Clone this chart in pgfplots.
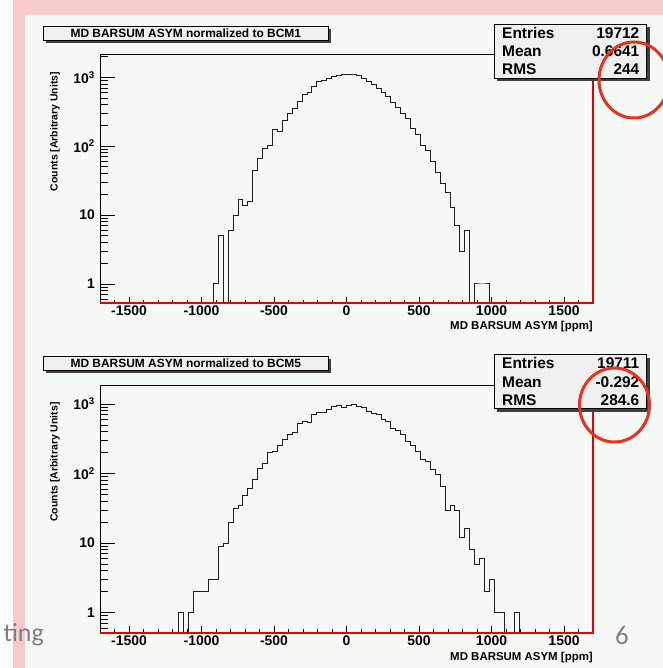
\documentclass[border=0pt]{standalone}
\usepackage{pgfplots}
\pgfplotsset{compat=1.18}
\usepackage{pgfplotstable}
\usepackage{fontspec}
\setmainfont{Liberation Sans}
\newfontfamily\slidefont{Carlito}

\definecolor{slidepink}{RGB}{247,203,203}
\definecolor{canvasbg}{RGB}{246,250,247}
\definecolor{boxgray}{RGB}{240,240,240}
\definecolor{rootred}{RGB}{232,0,0}
\definecolor{markred}{RGB}{236,48,28}
\definecolor{histline}{RGB}{30,30,30}

\newcommand\tickfont{\bfseries\fontsize{14}{14}\selectfont}
\newcommand\statfont{\bfseries\fontsize{15.5}{15.5}\selectfont}
\newcommand\titlefont{\bfseries\fontsize{12}{12}\selectfont}
\newcommand\ylabfont{\bfseries\fontsize{10.5}{10.5}\selectfont}
\newcommand\xlabfont{\bfseries\fontsize{11.5}{11.5}\selectfont}

% bin left edge, counts (bin width 34 ppm, range -1700..1700)
\pgfplotstableread{
x n
-952 0
-918 1
-884 5
-850 0
-816 6
-782 10
-748 17
-714 14
-680 16
-646 44
-612 66
-578 92
-544 102
-510 172
-476 166
-442 237
-408 300
-374 354
-340 443
-306 560
-272 598
-238 739
-204 864
-170 903
-136 955
-102 1021
-68 1057
-34 1092
0 1104
34 1092
68 1056
102 966
136 874
170 791
204 692
238 605
272 524
306 433
340 363
374 300
408 254
442 182
476 150
510 104
544 88
578 60
612 41
646 29
680 21
714 13
748 7
782 3
816 6
850 0
884 1
918 1
952 1
986 0
1020 0
}\bcmone

\pgfplotstableread{
x n
-1190 0
-1156 1
-1122 0
-1088 1
-1054 2
-1020 2
-986 2
-952 3
-918 3
-884 9
-850 10
-816 20
-782 32
-748 35
-714 49
-680 61
-646 81
-612 119
-578 140
-544 200
-510 206
-476 251
-442 310
-408 370
-374 387
-340 527
-306 557
-272 538
-238 702
-204 767
-170 767
-136 847
-102 915
-68 945
-34 895
0 946
34 1000
68 916
102 896
136 793
170 734
204 710
238 602
272 557
306 447
340 414
374 359
408 288
442 252
476 207
510 157
544 149
578 115
612 98
646 65
680 29
714 35
748 29
782 12
816 16
850 8
884 5
918 6
952 2
986 3
1020 1
1054 1
1088 0
1122 0
1156 1
1190 0
1224 0
}\bcmfive

\begin{document}
\begin{tikzpicture}[x=1bp,y=1bp]
\useasboundingbox (0,0) rectangle (663,668);
\fill[white] (0,0) rectangle (663,668);
\fill[slidepink] (13,0) rectangle (663,668);
\fill[canvasbg] (25,0) rectangle (663,653);

% ---------- upper pad: normalized to BCM1 ----------
\begin{axis}[at={(100bp,365bp)}, anchor=south west, scale only axis,
  width=493bp, height=248bp, xmin=-1700, xmax=1700,
  ymode=log, ymin=0.53, ymax=2107,
  axis line style={draw=none}, clip mode=individual,
  tick align=inside, tick pos=left, tick style={black, line width=0.9bp},
  xtick={-1500,-1000,-500,0,500,1000,1500},
  xticklabels={-1500,-1000,-500,0,500,1000,1500},
  minor xtick={-1600,-1400,-1300,-1200,-1100,-900,-800,-700,-600,-400,-300,-200,-100,
    100,200,300,400,600,700,800,900,1100,1200,1300,1400,1600},
  major tick length=6.5bp, minor tick length=3.5bp,
  ymajorticks=false, yminorticks=false,
  xticklabel style={font=\tickfont, anchor=north, inner sep=0pt, yshift=-3bp}]
  \addplot[const plot mark left, draw=histline, line width=1bp]
    table[x=x, y expr={max(\thisrow{n},0.1)}] {\bcmone};
  \draw[black, line width=1bp] (rel axis cs:0,0) -- (rel axis cs:0,1) -- (rel axis cs:1,1);
  \draw[rootred, line width=1.6bp] (rel axis cs:0,0) -- (rel axis cs:1,0) -- (rel axis cs:1,1);
\end{axis}
\begin{axis}[at={(100bp,365bp)}, anchor=south west, scale only axis,
  width=493bp, height=248bp, xmin=-1700, xmax=1700,
  ymode=log, ymin=0.53, ymax=2107,
  axis line style={draw=none},
  tick align=inside, tick pos=left, tick style={black, line width=0.9bp},
  ytick={1,10,100,1000},
  yticklabels={1,10,{10\textsuperscript{2}},{10\textsuperscript{3}}},
  minor ytick={0.6,0.7,0.8,0.9,2,3,4,5,6,7,8,9,20,30,40,50,60,70,80,90,
    200,300,400,500,600,700,800,900,2000},
  major tick length=15bp, minor tick length=8bp,
  xmajorticks=false, xminorticks=false,
  yticklabel style={font=\tickfont, anchor=east, inner sep=0pt, xshift=-5bp}]
  \addplot[draw=none] coordinates {(0,1)};
\end{axis}

% ---------- lower pad: normalized to BCM5 ----------
\begin{axis}[at={(100bp,35.3bp)}, anchor=south west, scale only axis,
  width=493bp, height=247bp, xmin=-1700, xmax=1700,
  ymode=log, ymin=0.516, ymax=1834,
  axis line style={draw=none}, clip mode=individual,
  tick align=inside, tick pos=left, tick style={black, line width=0.9bp},
  xtick={-1500,-1000,-500,0,500,1000,1500},
  xticklabels={-1500,-1000,-500,0,500,1000,1500},
  minor xtick={-1600,-1400,-1300,-1200,-1100,-900,-800,-700,-600,-400,-300,-200,-100,
    100,200,300,400,600,700,800,900,1100,1200,1300,1400,1600},
  major tick length=6.5bp, minor tick length=3.5bp,
  ymajorticks=false, yminorticks=false,
  xticklabel style={font=\tickfont, anchor=north, inner sep=0pt, yshift=-3bp}]
  \addplot[const plot mark left, draw=histline, line width=1bp]
    table[x=x, y expr={max(\thisrow{n},0.1)}] {\bcmfive};
  \draw[black, line width=1bp] (rel axis cs:0,0) -- (rel axis cs:0,1) -- (rel axis cs:1,1);
  \draw[rootred, line width=1.6bp] (rel axis cs:0,0) -- (rel axis cs:1,0) -- (rel axis cs:1,1);
\end{axis}
\begin{axis}[at={(100bp,35.3bp)}, anchor=south west, scale only axis,
  width=493bp, height=247bp, xmin=-1700, xmax=1700,
  ymode=log, ymin=0.516, ymax=1834,
  axis line style={draw=none},
  tick align=inside, tick pos=left, tick style={black, line width=0.9bp},
  ytick={1,10,100,1000},
  yticklabels={1,10,{10\textsuperscript{2}},{10\textsuperscript{3}}},
  minor ytick={0.6,0.7,0.8,0.9,2,3,4,5,6,7,8,9,20,30,40,50,60,70,80,90,
    200,300,400,500,600,700,800,900},
  major tick length=15bp, minor tick length=8bp,
  xmajorticks=false, xminorticks=false,
  yticklabel style={font=\tickfont, anchor=east, inner sep=0pt, xshift=-5bp}]
  \addplot[draw=none] coordinates {(0,1)};
\end{axis}

% axis titles
\node[rotate=90, font=\ylabfont] at (55,668-131.5) {Counts [Arbitrary Units]};
\node[rotate=90, font=\ylabfont] at (55,668-462) {Counts [Arbitrary Units]};
\node[anchor=base east, font=\xlabfont, inner sep=0pt] at (593,668-330) {MD BARSUM ASYM [ppm]};
\node[anchor=base east, font=\xlabfont, inner sep=0pt] at (593,668-660.5) {MD BARSUM ASYM [ppm]};

% title boxes
\fill[black!75] (45.8,668-43.3) rectangle (330.8,668-28.6);
\filldraw[fill=boxgray, draw=black, line width=0.8bp] (43.3,668-40.8) rectangle (328.3,668-26.1);
\node[font=\titlefont] at (185.8,668-33.5) {MD BARSUM ASYM normalized to BCM1};
\fill[black!75] (45.8,668-373.3) rectangle (330.8,668-358.6);
\filldraw[fill=boxgray, draw=black, line width=0.8bp] (43.3,668-370.8) rectangle (328.3,668-356.1);
\node[font=\titlefont] at (185.8,668-363.5) {MD BARSUM ASYM normalized to BCM5};

% statistics boxes
\fill[black!75] (497.1,668-81.1) rectangle (649.5,668-27.1);
\filldraw[fill=boxgray, draw=black, line width=0.8bp] (494.3,668-78.3) rectangle (646.7,668-24.3);
\node[anchor=base west, font=\statfont, inner sep=0pt] at (502,668-38.3) {Entries};
\node[anchor=base east, font=\statfont, inner sep=0pt] at (639.5,668-38.3) {19712};
\node[anchor=base west, font=\statfont, inner sep=0pt] at (502,668-56.7) {Mean};
\node[anchor=base east, font=\statfont, inner sep=0pt] at (639.5,668-56.7) {0.6641};
\node[anchor=base west, font=\statfont, inner sep=0pt] at (502,668-75) {RMS};
\node[anchor=base east, font=\statfont, inner sep=0pt] at (639.5,668-75) {244};

\fill[black!75] (497.1,668-411.6) rectangle (649.5,668-357.6);
\filldraw[fill=boxgray, draw=black, line width=0.8bp] (494.3,668-408.8) rectangle (646.7,668-354.8);
\node[anchor=base west, font=\statfont, inner sep=0pt] at (502,668-368.8) {Entries};
\node[anchor=base east, font=\statfont, inner sep=0pt] at (639.5,668-368.8) {19711};
\node[anchor=base west, font=\statfont, inner sep=0pt] at (502,668-387.2) {Mean};
\node[anchor=base east, font=\statfont, inner sep=0pt] at (639.5,668-387.2) {-0.292};
\node[anchor=base west, font=\statfont, inner sep=0pt] at (502,668-405.5) {RMS};
\node[anchor=base east, font=\statfont, inner sep=0pt] at (639.5,668-405.5) {284.6};

% highlight rings
\draw[markred, line width=3bp] (634,668-80) ellipse [x radius=35, y radius=38];
\draw[markred, line width=3bp] (614.5,668-405) ellipse [x radius=35, y radius=37];

% slide footer
\node[anchor=base east, text=black!50, font=\slidefont\fontsize{26}{26}\selectfont, inner sep=0pt] at (44,668-642) {ting};
\node[anchor=base, text=black!50, font=\slidefont\fontsize{27}{27}\selectfont, inner sep=0pt] at (622,668-645) {6};
\end{tikzpicture}
\end{document}
